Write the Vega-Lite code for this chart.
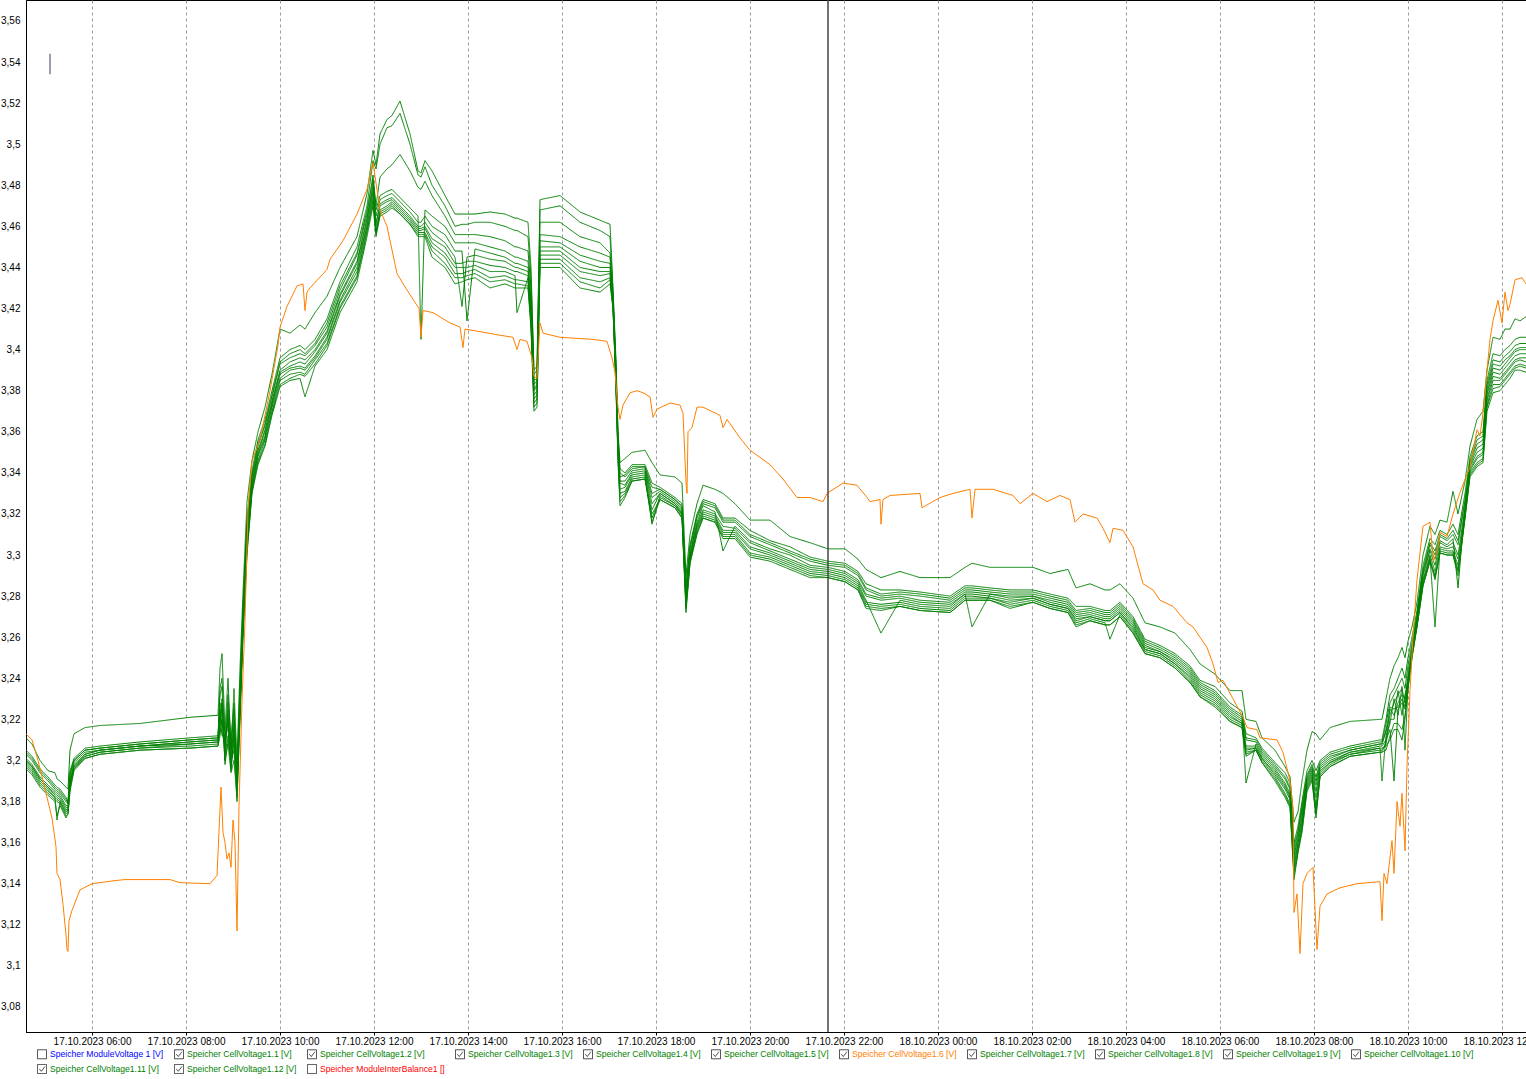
{
"$schema": "https://vega.github.io/schema/vega-lite/v6.json",
"width": 1500,
"height": 1032,
"autosize": "none",
"padding": {"left": 26, "top": 0, "right": 0, "bottom": 47},
"background": "white",
"config": {"view": {"stroke": "#000", "strokeWidth": 1}, "font": "Liberation Sans", "line": {"color": "#333"}},
"datasets": {
"names": [
{"k":"c1","name":"Speicher CellVoltage1.1 [V]"},{"k":"c2","name":"Speicher CellVoltage1.2 [V]"},{"k":"c3","name":"Speicher CellVoltage1.3 [V]"},{"k":"c4","name":"Speicher CellVoltage1.4 [V]"},{"k":"c5","name":"Speicher CellVoltage1.5 [V]"},{"k":"c7","name":"Speicher CellVoltage1.7 [V]"},{"k":"c8","name":"Speicher CellVoltage1.8 [V]"},{"k":"c9","name":"Speicher CellVoltage1.9 [V]"},{"k":"c10","name":"Speicher CellVoltage1.10 [V]"},{"k":"c11","name":"Speicher CellVoltage1.11 [V]"},{"k":"c12","name":"Speicher CellVoltage1.12 [V]"}
],
"g": [
{"t":"2023-10-17T04:35:44","c1":3.211,"c2":3.205,"c3":3.203,"c4":3.204,"c5":3.2,"c7":3.201,"c8":3.199,"c9":3.2,"c10":3.198,"c11":3.196,"c12":3.197},
{"t":"2023-10-17T04:43:24","c1":3.208,"c2":3.202,"c3":3.2,"c4":3.201,"c5":3.197,"c7":3.198,"c8":3.196,"c9":3.197,"c10":3.195,"c11":3.193,"c12":3.194},
{"t":"2023-10-17T04:53:37","c1":3.2,"c2":3.196,"c3":3.194,"c4":3.195,"c5":3.191,"c7":3.192,"c8":3.19,"c9":3.191,"c10":3.189,"c11":3.187,"c12":3.188},
{"t":"2023-10-17T05:03:50","c1":3.195,"c2":3.192,"c3":3.19,"c4":3.191,"c5":3.187,"c7":3.188,"c8":3.186,"c9":3.187,"c10":3.185,"c11":3.183,"c12":3.184},
{"t":"2023-10-17T05:12:46","c1":3.194,"c2":3.188,"c3":3.186,"c4":3.187,"c5":3.184,"c7":3.185,"c8":3.182,"c9":3.183,"c10":3.182,"c11":3.18,"c12":3.181},
{"t":"2023-10-17T05:15:19","c1":3.191,"c2":3.187,"c3":3.185,"c4":3.186,"c5":3.183,"c7":3.184,"c8":3.171,"c9":3.182,"c10":3.181,"c11":3.173,"c12":3.18},
{"t":"2023-10-17T05:19:09","c1":3.19,"c2":3.186,"c3":3.184,"c4":3.185,"c5":3.182,"c7":3.183,"c8":3.18,"c9":3.181,"c10":3.18,"c11":3.178,"c12":3.179},
{"t":"2023-10-17T05:26:49","c1":3.187,"c2":3.182,"c3":3.18,"c4":3.181,"c5":3.177,"c7":3.178,"c8":3.175,"c9":3.176,"c10":3.174,"c11":3.172,"c12":3.173},
{"t":"2023-10-17T05:29:22","c1":3.186,"c2":3.18,"c3":3.179,"c4":3.179,"c5":3.177,"c7":3.178,"c8":3.176,"c9":3.176,"c10":3.175,"c11":3.174,"c12":3.174},
{"t":"2023-10-17T05:31:55","c1":3.205,"c2":3.195,"c3":3.193,"c4":3.194,"c5":3.19,"c7":3.191,"c8":3.188,"c9":3.189,"c10":3.187,"c11":3.185,"c12":3.186},
{"t":"2023-10-17T05:37:01","c1":3.213,"c2":3.201,"c3":3.2,"c4":3.2,"c5":3.198,"c7":3.199,"c8":3.197,"c9":3.197,"c10":3.196,"c11":3.195,"c12":3.196},
{"t":"2023-10-17T05:51:04","c1":3.216,"c2":3.206,"c3":3.205,"c4":3.205,"c5":3.203,"c7":3.204,"c8":3.202,"c9":3.203,"c10":3.202,"c11":3.201,"c12":3.201},
{"t":"2023-10-17T06:10:13","c1":3.217,"c2":3.207,"c3":3.206,"c4":3.206,"c5":3.205,"c7":3.205,"c8":3.204,"c9":3.205,"c10":3.204,"c11":3.203,"c12":3.203},
{"t":"2023-10-17T07:01:17","c1":3.218,"c2":3.209,"c3":3.208,"c4":3.208,"c5":3.207,"c7":3.207,"c8":3.206,"c9":3.207,"c10":3.206,"c11":3.205,"c12":3.205},
{"t":"2023-10-17T08:05:07","c1":3.221,"c2":3.211,"c3":3.21,"c4":3.21,"c5":3.209,"c7":3.209,"c8":3.208,"c9":3.208,"c10":3.207,"c11":3.206,"c12":3.206},
{"t":"2023-10-17T08:40:51","c1":3.222,"c2":3.212,"c3":3.211,"c4":3.211,"c5":3.21,"c7":3.21,"c8":3.209,"c9":3.209,"c10":3.208,"c11":3.207,"c12":3.207},
{"t":"2023-10-17T08:43:24","c1":3.245,"c2":3.235,"c3":3.228,"c4":3.232,"c5":3.22,"c7":3.225,"c8":3.215,"c9":3.222,"c10":3.218,"c11":3.212,"c12":3.216},
{"t":"2023-10-17T08:45:57","c1":3.252,"c2":3.24,"c3":3.222,"c4":3.236,"c5":3.228,"c7":3.218,"c8":3.23,"c9":3.212,"c10":3.226,"c11":3.22,"c12":3.214},
{"t":"2023-10-17T08:49:47","c1":3.215,"c2":3.21,"c3":3.205,"c4":3.2,"c5":3.214,"c7":3.208,"c8":3.198,"c9":3.212,"c10":3.203,"c11":3.2,"c12":3.207},
{"t":"2023-10-17T08:53:37","c1":3.24,"c2":3.232,"c3":3.225,"c4":3.228,"c5":3.215,"c7":3.222,"c8":3.21,"c9":3.218,"c10":3.212,"c11":3.208,"c12":3.22},
{"t":"2023-10-17T08:57:27","c1":3.205,"c2":3.21,"c3":3.198,"c4":3.205,"c5":3.195,"c7":3.202,"c8":3.2,"c9":3.196,"c10":3.208,"c11":3.194,"c12":3.199},
{"t":"2023-10-17T09:01:17","c1":3.235,"c2":3.228,"c3":3.22,"c4":3.225,"c5":3.212,"c7":3.218,"c8":3.205,"c9":3.215,"c10":3.21,"c11":3.2,"c12":3.208},
{"t":"2023-10-17T09:05:07","c1":3.2,"c2":3.195,"c3":3.19,"c4":3.185,"c5":3.192,"c7":3.188,"c8":3.18,"c9":3.194,"c10":3.186,"c11":3.182,"c12":3.19},
{"t":"2023-10-17T09:08:56","c1":3.245,"c2":3.238,"c3":3.232,"c4":3.235,"c5":3.228,"c7":3.23,"c8":3.222,"c9":3.226,"c10":3.224,"c11":3.22,"c12":3.225},
{"t":"2023-10-17T09:12:46","c1":3.282,"c2":3.276,"c3":3.272,"c4":3.274,"c5":3.268,"c7":3.27,"c8":3.265,"c9":3.266,"c10":3.263,"c11":3.26,"c12":3.262},
{"t":"2023-10-17T09:17:52","c1":3.326,"c2":3.318,"c3":3.314,"c4":3.315,"c5":3.309,"c7":3.311,"c8":3.305,"c9":3.307,"c10":3.304,"c11":3.3,"c12":3.302},
{"t":"2023-10-17T09:24:15","c1":3.346,"c2":3.341,"c3":3.338,"c4":3.339,"c5":3.335,"c7":3.337,"c8":3.333,"c9":3.334,"c10":3.332,"c11":3.33,"c12":3.331},
{"t":"2023-10-17T09:31:55","c1":3.36,"c2":3.356,"c3":3.353,"c4":3.354,"c5":3.35,"c7":3.351,"c8":3.348,"c9":3.349,"c10":3.346,"c11":3.344,"c12":3.345},
{"t":"2023-10-17T09:40:51","c1":3.372,"c2":3.366,"c3":3.363,"c4":3.364,"c5":3.36,"c7":3.361,"c8":3.357,"c9":3.358,"c10":3.356,"c11":3.353,"c12":3.354},
{"t":"2023-10-17T09:49:47","c1":3.388,"c2":3.38,"c3":3.377,"c4":3.378,"c5":3.374,"c7":3.375,"c8":3.372,"c9":3.373,"c10":3.37,"c11":3.368,"c12":3.369},
{"t":"2023-10-17T10:00:00","c1":3.41,"c2":3.396,"c3":3.393,"c4":3.394,"c5":3.389,"c7":3.39,"c8":3.386,"c9":3.388,"c10":3.385,"c11":3.382,"c12":3.383},
{"t":"2023-10-17T10:12:46","c1":3.408,"c2":3.4,"c3":3.396,"c4":3.398,"c5":3.392,"c7":3.394,"c8":3.39,"c9":3.391,"c10":3.388,"c11":3.385,"c12":3.386},
{"t":"2023-10-17T10:25:32","c1":3.412,"c2":3.402,"c3":3.398,"c4":3.4,"c5":3.394,"c7":3.396,"c8":3.391,"c9":3.392,"c10":3.389,"c11":3.386,"c12":3.388},
{"t":"2023-10-17T10:31:55","c1":3.41,"c2":3.4,"c3":3.397,"c4":3.398,"c5":3.393,"c7":3.395,"c8":3.39,"c9":3.391,"c10":3.388,"c11":3.377,"c12":3.387},
{"t":"2023-10-17T10:44:41","c1":3.418,"c2":3.405,"c3":3.402,"c4":3.403,"c5":3.399,"c7":3.4,"c8":3.396,"c9":3.397,"c10":3.395,"c11":3.392,"c12":3.393},
{"t":"2023-10-17T11:00:00","c1":3.426,"c2":3.415,"c3":3.411,"c4":3.413,"c5":3.408,"c7":3.409,"c8":3.405,"c9":3.406,"c10":3.403,"c11":3.4,"c12":3.402},
{"t":"2023-10-17T11:16:36","c1":3.44,"c2":3.433,"c3":3.429,"c4":3.431,"c5":3.426,"c7":3.427,"c8":3.423,"c9":3.424,"c10":3.421,"c11":3.418,"c12":3.42},
{"t":"2023-10-17T11:38:18","c1":3.455,"c2":3.45,"c3":3.446,"c4":3.447,"c5":3.442,"c7":3.443,"c8":3.438,"c9":3.44,"c10":3.436,"c11":3.433,"c12":3.435},
{"t":"2023-10-17T11:51:04","c1":3.476,"c2":3.47,"c3":3.466,"c4":3.468,"c5":3.463,"c7":3.464,"c8":3.46,"c9":3.461,"c10":3.458,"c11":3.455,"c12":3.457},
{"t":"2023-10-17T11:58:43","c1":3.497,"c2":3.492,"c3":3.485,"c4":3.483,"c5":3.479,"c7":3.481,"c8":3.475,"c9":3.477,"c10":3.473,"c11":3.47,"c12":3.472},
{"t":"2023-10-17T12:02:33","c1":3.49,"c2":3.488,"c3":3.47,"c4":3.468,"c5":3.46,"c7":3.465,"c8":3.456,"c9":3.462,"c10":3.458,"c11":3.455,"c12":3.457},
{"t":"2023-10-17T12:07:40","c1":3.505,"c2":3.5,"c3":3.484,"c4":3.475,"c5":3.471,"c7":3.473,"c8":3.468,"c9":3.47,"c10":3.467,"c11":3.465,"c12":3.466},
{"t":"2023-10-17T12:16:36","c1":3.512,"c2":3.508,"c3":3.488,"c4":3.477,"c5":3.473,"c7":3.475,"c8":3.47,"c9":3.472,"c10":3.469,"c11":3.467,"c12":3.468},
{"t":"2023-10-17T12:22:59","c1":3.514,"c2":3.509,"c3":3.49,"c4":3.478,"c5":3.474,"c7":3.476,"c8":3.472,"c9":3.473,"c10":3.471,"c11":3.469,"c12":3.47},
{"t":"2023-10-17T12:33:11","c1":3.521,"c2":3.515,"c3":3.495,"c4":3.474,"c5":3.47,"c7":3.472,"c8":3.468,"c9":3.469,"c10":3.467,"c11":3.466,"c12":3.466},
{"t":"2023-10-17T12:45:57","c1":3.505,"c2":3.5,"c3":3.487,"c4":3.469,"c5":3.465,"c7":3.467,"c8":3.463,"c9":3.464,"c10":3.462,"c11":3.461,"c12":3.461},
{"t":"2023-10-17T12:56:10","c1":3.487,"c2":3.485,"c3":3.479,"c4":3.465,"c5":3.46,"c7":3.462,"c8":3.458,"c9":3.459,"c10":3.457,"c11":3.455,"c12":3.456},
{"t":"2023-10-17T13:00:00","c1":3.486,"c2":3.484,"c3":3.478,"c4":3.405,"c5":3.46,"c7":3.462,"c8":3.458,"c9":3.459,"c10":3.457,"c11":3.455,"c12":3.456},
{"t":"2023-10-17T13:05:06","c1":3.492,"c2":3.489,"c3":3.482,"c4":3.468,"c5":3.462,"c7":3.465,"c8":3.459,"c9":3.46,"c10":3.457,"c11":3.455,"c12":3.456},
{"t":"2023-10-17T13:14:03","c1":3.487,"c2":3.48,"c3":3.475,"c4":3.465,"c5":3.457,"c7":3.46,"c8":3.452,"c9":3.454,"c10":3.45,"c11":3.445,"c12":3.448},
{"t":"2023-10-17T13:30:38","c1":3.475,"c2":3.47,"c3":3.465,"c4":3.46,"c5":3.452,"c7":3.456,"c8":3.447,"c9":3.45,"c10":3.445,"c11":3.44,"c12":3.442},
{"t":"2023-10-17T13:43:24","c1":3.466,"c2":3.46,"c3":3.456,"c4":3.452,"c5":3.445,"c7":3.448,"c8":3.44,"c9":3.442,"c10":3.437,"c11":3.432,"c12":3.435},
{"t":"2023-10-17T13:52:20","c1":3.466,"c2":3.461,"c3":3.456,"c4":3.452,"c5":3.421,"c7":3.448,"c8":3.44,"c9":3.442,"c10":3.437,"c11":3.433,"c12":3.435},
{"t":"2023-10-17T13:58:43","c1":3.466,"c2":3.461,"c3":3.456,"c4":3.452,"c5":3.445,"c7":3.414,"c8":3.44,"c9":3.443,"c10":3.438,"c11":3.434,"c12":3.436},
{"t":"2023-10-17T14:08:56","c1":3.466,"c2":3.462,"c3":3.456,"c4":3.452,"c5":3.446,"c7":3.449,"c8":3.441,"c9":3.443,"c10":3.439,"c11":3.435,"c12":3.437},
{"t":"2023-10-17T14:28:05","c1":3.467,"c2":3.462,"c3":3.455,"c4":3.45,"c5":3.444,"c7":3.447,"c8":3.438,"c9":3.441,"c10":3.435,"c11":3.43,"c12":3.433},
{"t":"2023-10-17T14:47:14","c1":3.466,"c2":3.46,"c3":3.453,"c4":3.448,"c5":3.443,"c7":3.445,"c8":3.438,"c9":3.44,"c10":3.436,"c11":3.432,"c12":3.434},
{"t":"2023-10-17T15:00:00","c1":3.464,"c2":3.458,"c3":3.45,"c4":3.445,"c5":3.44,"c7":3.442,"c8":3.436,"c9":3.438,"c10":3.434,"c11":3.43,"c12":3.432},
{"t":"2023-10-17T15:02:33","c1":3.464,"c2":3.458,"c3":3.45,"c4":3.445,"c5":3.44,"c7":3.442,"c8":3.418,"c9":3.438,"c10":3.434,"c11":3.43,"c12":3.432},
{"t":"2023-10-17T15:16:36","c1":3.462,"c2":3.455,"c3":3.448,"c4":3.443,"c5":3.438,"c7":3.44,"c8":3.435,"c9":3.436,"c10":3.433,"c11":3.43,"c12":3.431},
{"t":"2023-10-17T15:20:26","c1":3.44,"c2":3.435,"c3":3.43,"c4":3.425,"c5":3.42,"c7":3.422,"c8":3.415,"c9":3.418,"c10":3.413,"c11":3.41,"c12":3.412},
{"t":"2023-10-17T15:24:15","c1":3.39,"c2":3.388,"c3":3.385,"c4":3.383,"c5":3.38,"c7":3.381,"c8":3.376,"c9":3.378,"c10":3.374,"c11":3.37,"c12":3.372},
{"t":"2023-10-17T15:28:05","c1":3.392,"c2":3.39,"c3":3.386,"c4":3.385,"c5":3.382,"c7":3.383,"c8":3.378,"c9":3.38,"c10":3.376,"c11":3.372,"c12":3.374},
{"t":"2023-10-17T15:31:55","c1":3.473,"c2":3.468,"c3":3.462,"c4":3.456,"c5":3.45,"c7":3.453,"c8":3.446,"c9":3.448,"c10":3.444,"c11":3.44,"c12":3.442},
{"t":"2023-10-17T15:57:27","c1":3.475,"c2":3.47,"c3":3.462,"c4":3.455,"c5":3.45,"c7":3.452,"c8":3.446,"c9":3.448,"c10":3.444,"c11":3.44,"c12":3.442},
{"t":"2023-10-17T16:22:59","c1":3.467,"c2":3.462,"c3":3.455,"c4":3.45,"c5":3.443,"c7":3.446,"c8":3.438,"c9":3.44,"c10":3.435,"c11":3.43,"c12":3.433},
{"t":"2023-10-17T16:48:31","c1":3.463,"c2":3.458,"c3":3.452,"c4":3.447,"c5":3.44,"c7":3.443,"c8":3.436,"c9":3.438,"c10":3.433,"c11":3.428,"c12":3.43},
{"t":"2023-10-17T17:01:17","c1":3.461,"c2":3.455,"c3":3.447,"c4":3.445,"c5":3.44,"c7":3.442,"c8":3.437,"c9":3.438,"c10":3.435,"c11":3.432,"c12":3.434},
{"t":"2023-10-17T17:05:06","c1":3.43,"c2":3.428,"c3":3.426,"c4":3.425,"c5":3.423,"c7":3.424,"c8":3.421,"c9":3.422,"c10":3.421,"c11":3.42,"c12":3.42},
{"t":"2023-10-17T17:08:56","c1":3.395,"c2":3.392,"c3":3.39,"c4":3.388,"c5":3.386,"c7":3.387,"c8":3.384,"c9":3.385,"c10":3.383,"c11":3.38,"c12":3.382},
{"t":"2023-10-17T17:11:30","c1":3.36,"c2":3.358,"c3":3.356,"c4":3.355,"c5":3.352,"c7":3.353,"c8":3.35,"c9":3.351,"c10":3.348,"c11":3.345,"c12":3.347},
{"t":"2023-10-17T17:14:03","c1":3.345,"c2":3.342,"c3":3.34,"c4":3.338,"c5":3.335,"c7":3.336,"c8":3.33,"c9":3.332,"c10":3.328,"c11":3.324,"c12":3.326},
{"t":"2023-10-17T17:20:26","c1":3.347,"c2":3.34,"c3":3.338,"c4":3.339,"c5":3.334,"c7":3.336,"c8":3.331,"c9":3.333,"c10":3.33,"c11":3.328,"c12":3.329},
{"t":"2023-10-17T17:29:22","c1":3.35,"c2":3.344,"c3":3.342,"c4":3.343,"c5":3.34,"c7":3.341,"c8":3.338,"c9":3.339,"c10":3.337,"c11":3.336,"c12":3.336},
{"t":"2023-10-17T17:45:57","c1":3.351,"c2":3.344,"c3":3.343,"c4":3.343,"c5":3.341,"c7":3.342,"c8":3.339,"c9":3.34,"c10":3.338,"c11":3.337,"c12":3.337},
{"t":"2023-10-17T17:54:54","c1":3.345,"c2":3.335,"c3":3.33,"c4":3.333,"c5":3.325,"c7":3.328,"c8":3.315,"c9":3.322,"c10":3.318,"c11":3.316,"c12":3.32},
{"t":"2023-10-17T18:05:06","c1":3.339,"c2":3.333,"c3":3.332,"c4":3.332,"c5":3.33,"c7":3.331,"c8":3.329,"c9":3.33,"c10":3.328,"c11":3.327,"c12":3.327},
{"t":"2023-10-17T18:24:15","c1":3.338,"c2":3.328,"c3":3.327,"c4":3.327,"c5":3.325,"c7":3.326,"c8":3.324,"c9":3.325,"c10":3.324,"c11":3.323,"c12":3.323},
{"t":"2023-10-17T18:33:11","c1":3.335,"c2":3.325,"c3":3.323,"c4":3.324,"c5":3.321,"c7":3.322,"c8":3.32,"c9":3.32,"c10":3.319,"c11":3.318,"c12":3.318},
{"t":"2023-10-17T18:38:18","c1":3.29,"c2":3.285,"c3":3.283,"c4":3.284,"c5":3.28,"c7":3.282,"c8":3.277,"c9":3.279,"c10":3.275,"c11":3.272,"c12":3.274},
{"t":"2023-10-17T18:43:24","c1":3.31,"c2":3.305,"c3":3.303,"c4":3.304,"c5":3.3,"c7":3.301,"c8":3.298,"c9":3.299,"c10":3.297,"c11":3.296,"c12":3.296},
{"t":"2023-10-17T18:52:20","c1":3.325,"c2":3.32,"c3":3.318,"c4":3.319,"c5":3.315,"c7":3.316,"c8":3.313,"c9":3.314,"c10":3.312,"c11":3.31,"c12":3.311},
{"t":"2023-10-17T19:00:00","c1":3.334,"c2":3.327,"c3":3.325,"c4":3.326,"c5":3.322,"c7":3.324,"c8":3.32,"c9":3.321,"c10":3.319,"c11":3.318,"c12":3.318},
{"t":"2023-10-17T19:15:19","c1":3.332,"c2":3.325,"c3":3.323,"c4":3.324,"c5":3.32,"c7":3.321,"c8":3.318,"c9":3.319,"c10":3.317,"c11":3.316,"c12":3.316},
{"t":"2023-10-17T19:25:32","c1":3.33,"c2":3.318,"c3":3.316,"c4":3.317,"c5":3.314,"c7":3.302,"c8":3.311,"c9":3.312,"c10":3.31,"c11":3.308,"c12":3.309},
{"t":"2023-10-17T19:40:51","c1":3.325,"c2":3.318,"c3":3.316,"c4":3.317,"c5":3.313,"c7":3.314,"c8":3.311,"c9":3.312,"c10":3.31,"c11":3.308,"c12":3.309},
{"t":"2023-10-17T20:00:00","c1":3.317,"c2":3.312,"c3":3.309,"c4":3.31,"c5":3.306,"c7":3.307,"c8":3.303,"c9":3.304,"c10":3.301,"c11":3.299,"c12":3.3},
{"t":"2023-10-17T20:25:32","c1":3.317,"c2":3.307,"c3":3.305,"c4":3.306,"c5":3.302,"c7":3.303,"c8":3.3,"c9":3.301,"c10":3.299,"c11":3.297,"c12":3.298},
{"t":"2023-10-17T20:51:04","c1":3.309,"c2":3.304,"c3":3.301,"c4":3.302,"c5":3.298,"c7":3.3,"c8":3.296,"c9":3.297,"c10":3.295,"c11":3.293,"c12":3.294},
{"t":"2023-10-17T21:16:36","c1":3.306,"c2":3.299,"c3":3.297,"c4":3.298,"c5":3.294,"c7":3.295,"c8":3.292,"c9":3.293,"c10":3.291,"c11":3.289,"c12":3.29},
{"t":"2023-10-17T21:39:34","c1":3.303,"c2":3.297,"c3":3.295,"c4":3.296,"c5":3.293,"c7":3.294,"c8":3.291,"c9":3.292,"c10":3.29,"c11":3.289,"c12":3.289},
{"t":"2023-10-17T22:01:17","c1":3.303,"c2":3.296,"c3":3.294,"c4":3.295,"c5":3.291,"c7":3.292,"c8":3.289,"c9":3.29,"c10":3.288,"c11":3.287,"c12":3.287},
{"t":"2023-10-17T22:17:52","c1":3.298,"c2":3.292,"c3":3.29,"c4":3.291,"c5":3.287,"c7":3.288,"c8":3.285,"c9":3.286,"c10":3.284,"c11":3.283,"c12":3.283},
{"t":"2023-10-17T22:28:05","c1":3.293,"c2":3.286,"c3":3.283,"c4":3.284,"c5":3.28,"c7":3.281,"c8":3.277,"c9":3.278,"c10":3.276,"c11":3.274,"c12":3.275},
{"t":"2023-10-17T22:47:14","c1":3.289,"c2":3.283,"c3":3.28,"c4":3.281,"c5":3.278,"c7":3.279,"c8":3.276,"c9":3.262,"c10":3.275,"c11":3.273,"c12":3.274},
{"t":"2023-10-17T23:11:30","c1":3.292,"c2":3.283,"c3":3.281,"c4":3.282,"c5":3.279,"c7":3.28,"c8":3.277,"c9":3.278,"c10":3.276,"c11":3.275,"c12":3.275},
{"t":"2023-10-17T23:37:01","c1":3.289,"c2":3.282,"c3":3.28,"c4":3.281,"c5":3.277,"c7":3.278,"c8":3.275,"c9":3.276,"c10":3.274,"c11":3.273,"c12":3.273},
{"t":"2023-10-18T00:15:19","c1":3.289,"c2":3.28,"c3":3.278,"c4":3.279,"c5":3.276,"c7":3.277,"c8":3.274,"c9":3.275,"c10":3.273,"c11":3.272,"c12":3.272},
{"t":"2023-10-18T00:34:28","c1":3.294,"c2":3.285,"c3":3.283,"c4":3.284,"c5":3.281,"c7":3.282,"c8":3.28,"c9":3.281,"c10":3.279,"c11":3.278,"c12":3.278},
{"t":"2023-10-18T00:43:24","c1":3.296,"c2":3.285,"c3":3.283,"c4":3.284,"c5":3.265,"c7":3.282,"c8":3.28,"c9":3.281,"c10":3.279,"c11":3.278,"c12":3.278},
{"t":"2023-10-18T01:06:23","c1":3.294,"c2":3.284,"c3":3.282,"c4":3.283,"c5":3.281,"c7":3.281,"c8":3.279,"c9":3.28,"c10":3.279,"c11":3.278,"c12":3.278},
{"t":"2023-10-18T01:31:55","c1":3.294,"c2":3.283,"c3":3.281,"c4":3.282,"c5":3.279,"c7":3.28,"c8":3.277,"c9":3.278,"c10":3.276,"c11":3.274,"c12":3.275},
{"t":"2023-10-18T02:01:17","c1":3.294,"c2":3.283,"c3":3.281,"c4":3.282,"c5":3.28,"c7":3.28,"c8":3.279,"c9":3.279,"c10":3.278,"c11":3.277,"c12":3.277},
{"t":"2023-10-18T02:22:59","c1":3.291,"c2":3.281,"c3":3.279,"c4":3.28,"c5":3.277,"c7":3.278,"c8":3.276,"c9":3.276,"c10":3.275,"c11":3.274,"c12":3.274},
{"t":"2023-10-18T02:45:57","c1":3.293,"c2":3.279,"c3":3.277,"c4":3.278,"c5":3.275,"c7":3.276,"c8":3.274,"c9":3.274,"c10":3.273,"c11":3.272,"c12":3.272},
{"t":"2023-10-18T02:56:10","c1":3.284,"c2":3.275,"c3":3.272,"c4":3.273,"c5":3.27,"c7":3.271,"c8":3.268,"c9":3.269,"c10":3.267,"c11":3.265,"c12":3.266},
{"t":"2023-10-18T03:14:03","c1":3.286,"c2":3.275,"c3":3.273,"c4":3.274,"c5":3.271,"c7":3.272,"c8":3.27,"c9":3.27,"c10":3.269,"c11":3.268,"c12":3.268},
{"t":"2023-10-18T03:33:11","c1":3.283,"c2":3.273,"c3":3.271,"c4":3.272,"c5":3.269,"c7":3.27,"c8":3.268,"c9":3.268,"c10":3.267,"c11":3.266,"c12":3.266},
{"t":"2023-10-18T03:39:34","c1":3.283,"c2":3.273,"c3":3.271,"c4":3.272,"c5":3.269,"c7":3.27,"c8":3.268,"c9":3.268,"c10":3.259,"c11":3.266,"c12":3.266},
{"t":"2023-10-18T03:52:20","c1":3.286,"c2":3.277,"c3":3.275,"c4":3.276,"c5":3.273,"c7":3.274,"c8":3.272,"c9":3.272,"c10":3.271,"c11":3.27,"c12":3.27},
{"t":"2023-10-18T04:08:56","c1":3.279,"c2":3.27,"c3":3.268,"c4":3.269,"c5":3.266,"c7":3.267,"c8":3.264,"c9":3.265,"c10":3.263,"c11":3.262,"c12":3.262},
{"t":"2023-10-18T04:24:15","c1":3.267,"c2":3.259,"c3":3.257,"c4":3.258,"c5":3.255,"c7":3.256,"c8":3.254,"c9":3.254,"c10":3.253,"c11":3.252,"c12":3.252},
{"t":"2023-10-18T04:43:24","c1":3.265,"c2":3.256,"c3":3.254,"c4":3.255,"c5":3.253,"c7":3.253,"c8":3.252,"c9":3.252,"c10":3.251,"c11":3.25,"c12":3.25},
{"t":"2023-10-18T05:02:33","c1":3.262,"c2":3.252,"c3":3.25,"c4":3.251,"c5":3.248,"c7":3.249,"c8":3.247,"c9":3.247,"c10":3.246,"c11":3.245,"c12":3.245},
{"t":"2023-10-18T05:21:42","c1":3.254,"c2":3.246,"c3":3.244,"c4":3.245,"c5":3.242,"c7":3.243,"c8":3.24,"c9":3.241,"c10":3.239,"c11":3.238,"c12":3.238},
{"t":"2023-10-18T05:34:28","c1":3.247,"c2":3.239,"c3":3.237,"c4":3.238,"c5":3.235,"c7":3.236,"c8":3.233,"c9":3.234,"c10":3.232,"c11":3.231,"c12":3.231},
{"t":"2023-10-18T05:53:37","c1":3.242,"c2":3.236,"c3":3.233,"c4":3.234,"c5":3.231,"c7":3.232,"c8":3.229,"c9":3.23,"c10":3.228,"c11":3.226,"c12":3.227},
{"t":"2023-10-18T06:12:46","c1":3.234,"c2":3.228,"c3":3.225,"c4":3.226,"c5":3.223,"c7":3.224,"c8":3.221,"c9":3.222,"c10":3.22,"c11":3.219,"c12":3.219},
{"t":"2023-10-18T06:28:05","c1":3.234,"c2":3.224,"c3":3.221,"c4":3.222,"c5":3.219,"c7":3.22,"c8":3.218,"c9":3.218,"c10":3.217,"c11":3.216,"c12":3.216},
{"t":"2023-10-18T06:33:11","c1":3.22,"c2":3.213,"c3":3.21,"c4":3.211,"c5":3.207,"c7":3.189,"c8":3.205,"c9":3.206,"c10":3.204,"c11":3.202,"c12":3.203},
{"t":"2023-10-18T06:45:57","c1":3.219,"c2":3.211,"c3":3.209,"c4":3.21,"c5":3.207,"c7":3.208,"c8":3.206,"c9":3.206,"c10":3.205,"c11":3.205,"c12":3.205},
{"t":"2023-10-18T06:53:37","c1":3.211,"c2":3.206,"c3":3.204,"c4":3.205,"c5":3.202,"c7":3.203,"c8":3.201,"c9":3.201,"c10":3.2,"c11":3.199,"c12":3.199},
{"t":"2023-10-18T07:10:13","c1":3.205,"c2":3.199,"c3":3.197,"c4":3.198,"c5":3.195,"c7":3.196,"c8":3.193,"c9":3.194,"c10":3.192,"c11":3.19,"c12":3.191},
{"t":"2023-10-18T07:22:59","c1":3.197,"c2":3.194,"c3":3.191,"c4":3.192,"c5":3.188,"c7":3.189,"c8":3.186,"c9":3.187,"c10":3.184,"c11":3.182,"c12":3.183},
{"t":"2023-10-18T07:29:22","c1":3.192,"c2":3.189,"c3":3.186,"c4":3.187,"c5":3.183,"c7":3.184,"c8":3.181,"c9":3.182,"c10":3.179,"c11":3.177,"c12":3.178},
{"t":"2023-10-18T07:34:28","c1":3.17,"c2":3.16,"c3":3.156,"c4":3.158,"c5":3.152,"c7":3.154,"c8":3.148,"c9":3.15,"c10":3.146,"c11":3.142,"c12":3.144},
{"t":"2023-10-18T07:39:34","c1":3.175,"c2":3.168,"c3":3.165,"c4":3.166,"c5":3.162,"c7":3.163,"c8":3.159,"c9":3.16,"c10":3.157,"c11":3.155,"c12":3.156},
{"t":"2023-10-18T07:44:41","c1":3.19,"c2":3.18,"c3":3.176,"c4":3.178,"c5":3.172,"c7":3.174,"c8":3.169,"c9":3.17,"c10":3.167,"c11":3.165,"c12":3.166},
{"t":"2023-10-18T07:51:04","c1":3.205,"c2":3.195,"c3":3.192,"c4":3.193,"c5":3.19,"c7":3.191,"c8":3.188,"c9":3.189,"c10":3.187,"c11":3.185,"c12":3.186},
{"t":"2023-10-18T07:57:27","c1":3.214,"c2":3.2,"c3":3.197,"c4":3.198,"c5":3.195,"c7":3.196,"c8":3.193,"c9":3.194,"c10":3.192,"c11":3.19,"c12":3.191},
{"t":"2023-10-18T08:02:33","c1":3.213,"c2":3.195,"c3":3.19,"c4":3.192,"c5":3.185,"c7":3.188,"c8":3.178,"c9":3.182,"c10":3.175,"c11":3.172,"c12":3.174},
{"t":"2023-10-18T08:07:40","c1":3.21,"c2":3.2,"c3":3.198,"c4":3.199,"c5":3.196,"c7":3.197,"c8":3.194,"c9":3.195,"c10":3.193,"c11":3.192,"c12":3.192},
{"t":"2023-10-18T08:20:26","c1":3.216,"c2":3.204,"c3":3.202,"c4":3.203,"c5":3.2,"c7":3.201,"c8":3.199,"c9":3.199,"c10":3.198,"c11":3.197,"c12":3.197},
{"t":"2023-10-18T08:45:57","c1":3.219,"c2":3.207,"c3":3.205,"c4":3.206,"c5":3.204,"c7":3.205,"c8":3.203,"c9":3.204,"c10":3.203,"c11":3.202,"c12":3.202},
{"t":"2023-10-18T09:24:15","c1":3.22,"c2":3.21,"c3":3.208,"c4":3.209,"c5":3.207,"c7":3.208,"c8":3.206,"c9":3.206,"c10":3.205,"c11":3.204,"c12":3.204},
{"t":"2023-10-18T09:26:49","c1":3.22,"c2":3.21,"c3":3.208,"c4":3.209,"c5":3.207,"c7":3.208,"c8":3.206,"c9":3.19,"c10":3.205,"c11":3.204,"c12":3.204},
{"t":"2023-10-18T09:31:55","c1":3.23,"c2":3.22,"c3":3.214,"c4":3.218,"c5":3.21,"c7":3.215,"c8":3.207,"c9":3.212,"c10":3.208,"c11":3.205,"c12":3.209},
{"t":"2023-10-18T09:37:01","c1":3.24,"c2":3.232,"c3":3.222,"c4":3.228,"c5":3.215,"c7":3.225,"c8":3.21,"c9":3.218,"c10":3.22,"c11":3.212,"c12":3.226},
{"t":"2023-10-18T09:42:08","c1":3.246,"c2":3.235,"c3":3.228,"c4":3.232,"c5":3.19,"c7":3.222,"c8":3.215,"c9":3.23,"c10":3.22,"c11":3.218,"c12":3.225},
{"t":"2023-10-18T09:47:14","c1":3.25,"c2":3.24,"c3":3.232,"c4":3.236,"c5":3.225,"c7":3.228,"c8":3.215,"c9":3.222,"c10":3.234,"c11":3.218,"c12":3.226},
{"t":"2023-10-18T09:52:20","c1":3.255,"c2":3.245,"c3":3.235,"c4":3.24,"c5":3.228,"c7":3.232,"c8":3.21,"c9":3.236,"c10":3.222,"c11":3.215,"c12":3.23},
{"t":"2023-10-18T09:56:10","c1":3.25,"c2":3.24,"c3":3.228,"c4":3.235,"c5":3.225,"c7":3.23,"c8":3.22,"c9":3.205,"c10":3.232,"c11":3.222,"c12":3.226},
{"t":"2023-10-18T10:00:00","c1":3.258,"c2":3.25,"c3":3.242,"c4":3.246,"c5":3.238,"c7":3.24,"c8":3.235,"c9":3.236,"c10":3.238,"c11":3.235,"c12":3.237},
{"t":"2023-10-18T10:05:06","c1":3.265,"c2":3.26,"c3":3.255,"c4":3.257,"c5":3.253,"c7":3.254,"c8":3.25,"c9":3.252,"c10":3.251,"c11":3.25,"c12":3.251},
{"t":"2023-10-18T10:11:30","c1":3.277,"c2":3.273,"c3":3.27,"c4":3.271,"c5":3.268,"c7":3.269,"c8":3.266,"c9":3.267,"c10":3.266,"c11":3.265,"c12":3.265},
{"t":"2023-10-18T10:19:09","c1":3.3,"c2":3.295,"c3":3.292,"c4":3.293,"c5":3.29,"c7":3.291,"c8":3.287,"c9":3.288,"c10":3.286,"c11":3.285,"c12":3.285},
{"t":"2023-10-18T10:28:05","c1":3.314,"c2":3.308,"c3":3.305,"c4":3.306,"c5":3.302,"c7":3.303,"c8":3.299,"c9":3.3,"c10":3.298,"c11":3.297,"c12":3.297},
{"t":"2023-10-18T10:34:28","c1":3.31,"c2":3.305,"c3":3.3,"c4":3.302,"c5":3.295,"c7":3.298,"c8":3.265,"c9":3.292,"c10":3.29,"c11":3.288,"c12":3.289},
{"t":"2023-10-18T10:40:51","c1":3.317,"c2":3.312,"c3":3.309,"c4":3.31,"c5":3.306,"c7":3.307,"c8":3.303,"c9":3.304,"c10":3.302,"c11":3.301,"c12":3.301},
{"t":"2023-10-18T10:49:47","c1":3.316,"c2":3.31,"c3":3.307,"c4":3.308,"c5":3.304,"c7":3.305,"c8":3.302,"c9":3.303,"c10":3.301,"c11":3.3,"c12":3.3},
{"t":"2023-10-18T10:57:27","c1":3.331,"c2":3.315,"c3":3.31,"c4":3.312,"c5":3.306,"c7":3.308,"c8":3.302,"c9":3.304,"c10":3.301,"c11":3.3,"c12":3.3},
{"t":"2023-10-18T11:03:50","c1":3.32,"c2":3.31,"c3":3.305,"c4":3.307,"c5":3.3,"c7":3.284,"c8":3.295,"c9":3.298,"c10":3.293,"c11":3.29,"c12":3.292},
{"t":"2023-10-18T11:12:46","c1":3.336,"c2":3.33,"c3":3.326,"c4":3.327,"c5":3.323,"c7":3.324,"c8":3.32,"c9":3.321,"c10":3.319,"c11":3.318,"c12":3.318},
{"t":"2023-10-18T11:19:09","c1":3.353,"c2":3.348,"c3":3.345,"c4":3.346,"c5":3.343,"c7":3.344,"c8":3.341,"c9":3.342,"c10":3.34,"c11":3.338,"c12":3.339},
{"t":"2023-10-18T11:28:05","c1":3.366,"c2":3.358,"c3":3.354,"c4":3.356,"c5":3.35,"c7":3.352,"c8":3.347,"c9":3.348,"c10":3.345,"c11":3.343,"c12":3.344},
{"t":"2023-10-18T11:35:44","c1":3.37,"c2":3.36,"c3":3.356,"c4":3.358,"c5":3.352,"c7":3.354,"c8":3.349,"c9":3.35,"c10":3.347,"c11":3.345,"c12":3.346},
{"t":"2023-10-18T11:40:51","c1":3.39,"c2":3.385,"c3":3.381,"c4":3.383,"c5":3.378,"c7":3.379,"c8":3.375,"c9":3.376,"c10":3.373,"c11":3.37,"c12":3.372},
{"t":"2023-10-18T11:48:31","c1":3.406,"c2":3.398,"c3":3.393,"c4":3.395,"c5":3.389,"c7":3.391,"c8":3.385,"c9":3.387,"c10":3.383,"c11":3.379,"c12":3.381},
{"t":"2023-10-18T11:57:27","c1":3.405,"c2":3.397,"c3":3.392,"c4":3.394,"c5":3.388,"c7":3.39,"c8":3.385,"c9":3.386,"c10":3.383,"c11":3.38,"c12":3.382},
{"t":"2023-10-18T12:03:50","c1":3.41,"c2":3.4,"c3":3.395,"c4":3.397,"c5":3.391,"c7":3.393,"c8":3.388,"c9":3.389,"c10":3.386,"c11":3.383,"c12":3.385},
{"t":"2023-10-18T12:10:13","c1":3.41,"c2":3.402,"c3":3.397,"c4":3.399,"c5":3.394,"c7":3.396,"c8":3.391,"c9":3.392,"c10":3.389,"c11":3.386,"c12":3.388},
{"t":"2023-10-18T12:16:36","c1":3.415,"c2":3.405,"c3":3.4,"c4":3.402,"c5":3.397,"c7":3.399,"c8":3.394,"c9":3.395,"c10":3.392,"c11":3.39,"c12":3.391},
{"t":"2023-10-18T12:22:59","c1":3.414,"c2":3.406,"c3":3.401,"c4":3.403,"c5":3.398,"c7":3.4,"c8":3.395,"c9":3.396,"c10":3.393,"c11":3.39,"c12":3.392},
{"t":"2023-10-18T12:30:38","c1":3.416,"c2":3.406,"c3":3.401,"c4":3.403,"c5":3.398,"c7":3.4,"c8":3.394,"c9":3.396,"c10":3.392,"c11":3.389,"c12":3.391}
],
"o": [
{"t":"2023-10-17T04:35:44","v":3.213},{"t":"2023-10-17T04:43:24","v":3.21},{"t":"2023-10-17T04:51:04","v":3.2},{"t":"2023-10-17T05:00:00","v":3.186},{"t":"2023-10-17T05:08:56","v":3.172},{"t":"2023-10-17T05:14:02","v":3.158},{"t":"2023-10-17T05:15:19","v":3.145},{"t":"2023-10-17T05:19:09","v":3.142},{"t":"2023-10-17T05:22:59","v":3.13},{"t":"2023-10-17T05:26:49","v":3.115},{"t":"2023-10-17T05:28:05","v":3.108},{"t":"2023-10-17T05:29:22","v":3.107},{"t":"2023-10-17T05:30:38","v":3.122},{"t":"2023-10-17T05:34:28","v":3.127},{"t":"2023-10-17T05:44:41","v":3.137},{"t":"2023-10-17T06:00:00","v":3.14},{"t":"2023-10-17T06:29:22","v":3.1415},{"t":"2023-10-17T06:42:08","v":3.142},{"t":"2023-10-17T07:39:34","v":3.142},{"t":"2023-10-17T07:52:20","v":3.1405},{"t":"2023-10-17T08:30:38","v":3.14},{"t":"2023-10-17T08:39:34","v":3.144},{"t":"2023-10-17T08:44:41","v":3.187},{"t":"2023-10-17T08:47:14","v":3.165},{"t":"2023-10-17T08:49:47","v":3.16},{"t":"2023-10-17T08:52:20","v":3.152},{"t":"2023-10-17T08:54:53","v":3.155},{"t":"2023-10-17T08:57:27","v":3.148},{"t":"2023-10-17T09:00:00","v":3.171},{"t":"2023-10-17T09:02:33","v":3.16},{"t":"2023-10-17T09:05:07","v":3.117},{"t":"2023-10-17T09:07:40","v":3.178},{"t":"2023-10-17T09:11:29","v":3.229},{"t":"2023-10-17T09:15:19","v":3.268},{"t":"2023-10-17T09:19:09","v":3.322},{"t":"2023-10-17T09:24:15","v":3.346},{"t":"2023-10-17T09:34:28","v":3.356},{"t":"2023-10-17T09:47:14","v":3.38},{"t":"2023-10-17T09:57:27","v":3.402},{"t":"2023-10-17T10:00:00","v":3.411},{"t":"2023-10-17T10:08:56","v":3.421},{"t":"2023-10-17T10:21:42","v":3.431},{"t":"2023-10-17T10:29:22","v":3.432},{"t":"2023-10-17T10:31:55","v":3.419},{"t":"2023-10-17T10:34:28","v":3.428},{"t":"2023-10-17T10:38:18","v":3.43},{"t":"2023-10-17T11:00:00","v":3.439},{"t":"2023-10-17T11:03:50","v":3.444},{"t":"2023-10-17T11:20:26","v":3.453},{"t":"2023-10-17T11:38:18","v":3.466},{"t":"2023-10-17T11:51:04","v":3.478},{"t":"2023-10-17T11:58:43","v":3.491},{"t":"2023-10-17T12:07:40","v":3.468},{"t":"2023-10-17T12:16:36","v":3.46},{"t":"2023-10-17T12:29:22","v":3.437},{"t":"2023-10-17T12:42:08","v":3.429},{"t":"2023-10-17T12:57:27","v":3.42},{"t":"2023-10-17T13:00:00","v":3.406},{"t":"2023-10-17T13:02:33","v":3.419},{"t":"2023-10-17T13:15:19","v":3.418},{"t":"2023-10-17T13:37:01","v":3.413},{"t":"2023-10-17T13:49:47","v":3.411},{"t":"2023-10-17T13:53:37","v":3.401},{"t":"2023-10-17T13:56:10","v":3.41},{"t":"2023-10-17T14:11:29","v":3.409},{"t":"2023-10-17T14:40:51","v":3.407},{"t":"2023-10-17T14:57:27","v":3.406},{"t":"2023-10-17T15:02:33","v":3.4},{"t":"2023-10-17T15:06:23","v":3.405},{"t":"2023-10-17T15:15:19","v":3.404},{"t":"2023-10-17T15:21:42","v":3.396},{"t":"2023-10-17T15:24:15","v":3.387},{"t":"2023-10-17T15:28:05","v":3.386},{"t":"2023-10-17T15:31:55","v":3.413},{"t":"2023-10-17T15:35:44","v":3.408},{"t":"2023-10-17T15:57:27","v":3.406},{"t":"2023-10-17T16:39:34","v":3.405},{"t":"2023-10-17T16:57:27","v":3.404},{"t":"2023-10-17T17:03:50","v":3.396},{"t":"2023-10-17T17:07:40","v":3.389},{"t":"2023-10-17T17:10:13","v":3.377},{"t":"2023-10-17T17:11:30","v":3.372},{"t":"2023-10-17T17:14:03","v":3.366},{"t":"2023-10-17T17:17:52","v":3.373},{"t":"2023-10-17T17:26:49","v":3.379},{"t":"2023-10-17T17:35:44","v":3.38},{"t":"2023-10-17T17:43:24","v":3.379},{"t":"2023-10-17T17:52:20","v":3.377},{"t":"2023-10-17T17:56:10","v":3.367},{"t":"2023-10-17T18:01:17","v":3.371},{"t":"2023-10-17T18:17:52","v":3.374},{"t":"2023-10-17T18:30:38","v":3.373},{"t":"2023-10-17T18:34:28","v":3.369},{"t":"2023-10-17T18:38:18","v":3.335},{"t":"2023-10-17T18:39:34","v":3.33},{"t":"2023-10-17T18:40:51","v":3.36},{"t":"2023-10-17T18:45:57","v":3.362},{"t":"2023-10-17T18:52:20","v":3.372},{"t":"2023-10-17T19:00:00","v":3.372},{"t":"2023-10-17T19:21:42","v":3.368},{"t":"2023-10-17T19:25:32","v":3.362},{"t":"2023-10-17T19:30:38","v":3.366},{"t":"2023-10-17T19:47:14","v":3.357},{"t":"2023-10-17T20:00:00","v":3.351},{"t":"2023-10-17T20:25:32","v":3.344},{"t":"2023-10-17T20:42:08","v":3.337},{"t":"2023-10-17T21:00:00","v":3.328},{"t":"2023-10-17T21:16:36","v":3.328},{"t":"2023-10-17T21:33:11","v":3.326},{"t":"2023-10-17T21:38:18","v":3.33},{"t":"2023-10-17T21:58:43","v":3.335},{"t":"2023-10-17T22:16:36","v":3.334},{"t":"2023-10-17T22:29:22","v":3.328},{"t":"2023-10-17T22:33:11","v":3.326},{"t":"2023-10-17T22:45:57","v":3.327},{"t":"2023-10-17T22:47:14","v":3.315},{"t":"2023-10-17T22:49:47","v":3.327},{"t":"2023-10-17T22:58:43","v":3.329},{"t":"2023-10-17T23:37:01","v":3.33},{"t":"2023-10-17T23:39:34","v":3.323},{"t":"2023-10-18T00:02:33","v":3.328},{"t":"2023-10-18T00:19:09","v":3.33},{"t":"2023-10-18T00:40:51","v":3.332},{"t":"2023-10-18T00:43:24","v":3.318},{"t":"2023-10-18T00:47:14","v":3.332},{"t":"2023-10-18T01:10:13","v":3.332},{"t":"2023-10-18T01:35:44","v":3.329},{"t":"2023-10-18T01:44:41","v":3.325},{"t":"2023-10-18T02:01:17","v":3.33},{"t":"2023-10-18T02:19:09","v":3.326},{"t":"2023-10-18T02:35:44","v":3.329},{"t":"2023-10-18T02:48:31","v":3.327},{"t":"2023-10-18T02:54:53","v":3.316},{"t":"2023-10-18T03:05:06","v":3.32},{"t":"2023-10-18T03:22:59","v":3.318},{"t":"2023-10-18T03:30:38","v":3.313},{"t":"2023-10-18T03:39:34","v":3.306},{"t":"2023-10-18T03:43:24","v":3.313},{"t":"2023-10-18T03:56:10","v":3.312},{"t":"2023-10-18T04:08:56","v":3.304},{"t":"2023-10-18T04:21:42","v":3.286},{"t":"2023-10-18T04:34:28","v":3.283},{"t":"2023-10-18T04:43:24","v":3.278},{"t":"2023-10-18T05:00:00","v":3.275},{"t":"2023-10-18T05:17:52","v":3.267},{"t":"2023-10-18T05:25:32","v":3.265},{"t":"2023-10-18T05:43:24","v":3.255},{"t":"2023-10-18T05:51:04","v":3.247},{"t":"2023-10-18T05:57:27","v":3.238},{"t":"2023-10-18T06:03:50","v":3.239},{"t":"2023-10-18T06:16:36","v":3.23},{"t":"2023-10-18T06:29:22","v":3.221},{"t":"2023-10-18T06:34:28","v":3.216},{"t":"2023-10-18T06:47:14","v":3.215},{"t":"2023-10-18T06:51:04","v":3.211},{"t":"2023-10-18T07:12:46","v":3.21},{"t":"2023-10-18T07:20:26","v":3.204},{"t":"2023-10-18T07:29:22","v":3.19},{"t":"2023-10-18T07:33:11","v":3.177},{"t":"2023-10-18T07:34:28","v":3.126},{"t":"2023-10-18T07:38:18","v":3.135},{"t":"2023-10-18T07:42:08","v":3.106},{"t":"2023-10-18T07:45:57","v":3.14},{"t":"2023-10-18T07:51:04","v":3.145},{"t":"2023-10-18T07:58:43","v":3.148},{"t":"2023-10-18T08:01:17","v":3.128},{"t":"2023-10-18T08:03:50","v":3.108},{"t":"2023-10-18T08:07:40","v":3.129},{"t":"2023-10-18T08:16:36","v":3.135},{"t":"2023-10-18T08:33:11","v":3.138},{"t":"2023-10-18T08:54:53","v":3.14},{"t":"2023-10-18T09:24:15","v":3.141},{"t":"2023-10-18T09:26:49","v":3.122},{"t":"2023-10-18T09:29:22","v":3.145},{"t":"2023-10-18T09:33:11","v":3.14},{"t":"2023-10-18T09:39:34","v":3.161},{"t":"2023-10-18T09:42:08","v":3.145},{"t":"2023-10-18T09:46:00","v":3.18},{"t":"2023-10-18T09:49:47","v":3.168},{"t":"2023-10-18T09:52:20","v":3.184},{"t":"2023-10-18T09:56:10","v":3.156},{"t":"2023-10-18T09:58:43","v":3.197},{"t":"2023-10-18T10:02:33","v":3.234},{"t":"2023-10-18T10:06:23","v":3.26},{"t":"2023-10-18T10:11:30","v":3.288},{"t":"2023-10-18T10:19:09","v":3.314},{"t":"2023-10-18T10:28:05","v":3.316},{"t":"2023-10-18T10:32:20","v":3.297},{"t":"2023-10-18T10:37:27","v":3.302},{"t":"2023-10-18T10:40:51","v":3.311},{"t":"2023-10-18T10:49:47","v":3.309},{"t":"2023-10-18T10:57:27","v":3.32},{"t":"2023-10-18T11:05:57","v":3.33},{"t":"2023-10-18T11:19:09","v":3.343},{"t":"2023-10-18T11:28:05","v":3.361},{"t":"2023-10-18T11:31:55","v":3.358},{"t":"2023-10-18T11:35:44","v":3.369},{"t":"2023-10-18T11:40:51","v":3.39},{"t":"2023-10-18T11:44:41","v":3.405},{"t":"2023-10-18T11:48:31","v":3.414},{"t":"2023-10-18T11:54:53","v":3.424},{"t":"2023-10-18T12:00:00","v":3.413},{"t":"2023-10-18T12:03:50","v":3.428},{"t":"2023-10-18T12:07:40","v":3.419},{"t":"2023-10-18T12:10:13","v":3.422},{"t":"2023-10-18T12:16:36","v":3.434},{"t":"2023-10-18T12:25:32","v":3.435},{"t":"2023-10-18T12:30:38","v":3.432}
]
},
"encoding": {
"x": {"field": "t", "type": "temporal",
 "scale": {"domain": [{"year": 2023, "month": 10, "date": 17, "hours": 4, "minutes": 35, "seconds": 44}, {"year": 2023, "month": 10, "date": 18, "hours": 12, "minutes": 30, "seconds": 38}]},
 "axis": {"title": null, "format": "%d.%m.%Y %H:%M",
  "values": [{"year":2023,"month":10,"date":17,"hours":6},{"year":2023,"month":10,"date":17,"hours":8},{"year":2023,"month":10,"date":17,"hours":10},{"year":2023,"month":10,"date":17,"hours":12},{"year":2023,"month":10,"date":17,"hours":14},{"year":2023,"month":10,"date":17,"hours":16},{"year":2023,"month":10,"date":17,"hours":18},{"year":2023,"month":10,"date":17,"hours":20},{"year":2023,"month":10,"date":17,"hours":22},{"year":2023,"month":10,"date":18,"hours":0},{"year":2023,"month":10,"date":18,"hours":2},{"year":2023,"month":10,"date":18,"hours":4},{"year":2023,"month":10,"date":18,"hours":6},{"year":2023,"month":10,"date":18,"hours":8},{"year":2023,"month":10,"date":18,"hours":10},{"year":2023,"month":10,"date":18,"hours":12}],
  "grid": true, "gridDash": [3, 3], "gridColor": "#9a9a9a", "gridWidth": 1,
  "labelFont": "Liberation Sans", "labelFontSize": 10, "labelColor": "#000", "labelPadding": 1,
  "labelFlush": false, "labelOverlap": false, "labelBound": false,
  "domainColor": "#000", "tickColor": "#000", "tickSize": 3}},
"y": {"field": "v", "type": "quantitative",
 "scale": {"domain": [3.0678, 3.5702], "nice": false, "zero": false},
 "axis": {"title": null, "values": [3.08,3.1,3.12,3.14,3.16,3.18,3.2,3.22,3.24,3.26,3.28,3.3,3.32,3.34,3.36,3.38,3.4,3.42,3.44,3.46,3.48,3.5,3.52,3.54,3.56],
  "labelExpr": "replace(format(datum.value, '.2~f'), '.', ',')",
  "grid": false, "ticks": false, "tickSize": 0, "labelPadding": 6,
  "labelFont": "Liberation Sans", "labelFontSize": 10, "labelColor": "#000", "domainColor": "#000"}}
},
"layer": [
{"data": {"name": "g"},
 "transform": [
  {"fold": ["c1","c2","c3","c4","c5","c7","c8","c9","c10","c11","c12"], "as": ["k", "v"]},
  {"lookup": "k", "from": {"data": {"name": "names"}, "key": "k", "fields": ["name"]}}
 ],
 "mark": {"type": "line", "strokeWidth": 1, "clip": true},
 "encoding": {
  "color": {"field": "name", "type": "nominal", "legend": null,
   "scale": {"domain": ["Speicher CellVoltage1.1 [V]","Speicher CellVoltage1.2 [V]","Speicher CellVoltage1.3 [V]","Speicher CellVoltage1.4 [V]","Speicher CellVoltage1.5 [V]","Speicher CellVoltage1.6 [V]","Speicher CellVoltage1.7 [V]","Speicher CellVoltage1.8 [V]","Speicher CellVoltage1.9 [V]","Speicher CellVoltage1.10 [V]","Speicher CellVoltage1.11 [V]","Speicher CellVoltage1.12 [V]"],
    "range": ["#008000","#008000","#008000","#008000","#008000","#ff8000","#008000","#008000","#008000","#008000","#008000","#008000"]}},
  "strokeDash": {"field": "name", "type": "nominal",
   "scale": {"domain": ["Speicher ModuleVoltage 1 [V]","Speicher CellVoltage1.1 [V]","Speicher CellVoltage1.2 [V]","Speicher CellVoltage1.3 [V]","Speicher CellVoltage1.4 [V]","Speicher CellVoltage1.5 [V]","Speicher CellVoltage1.6 [V]","Speicher CellVoltage1.7 [V]","Speicher CellVoltage1.8 [V]","Speicher CellVoltage1.9 [V]","Speicher CellVoltage1.10 [V]","Speicher CellVoltage1.11 [V]","Speicher CellVoltage1.12 [V]","Speicher ModuleInterBalance1 []"],
    "range": [[1,0],[1,0],[1,0],[1,0],[1,0],[1,0],[1,0],[1,0],[1,0],[1,0],[1,0],[1,0],[1,0],[1,0]]},
   "legend": {"orient": "none", "legendX": 11, "legendY": 1049, "direction": "horizontal", "columns": 11, "title": null,
    "labelFont": "Liberation Sans", "labelFontSize": 8.6, "labelOffset": 3, "columnPadding": 8, "rowPadding": 1,
    "symbolSize": 81, "symbolStrokeWidth": 1, "symbolFillColor": "#fff", "symbolStrokeColor": "#333",
    "symbolType": "M-1,-1H1V1H-1Z M-0.6,0 L-0.15,0.5 L0.65,-0.55",
    "encode": {
     "labels": {"update": {"fill": {"signal": "datum.value == 'Speicher ModuleVoltage 1 [V]' ? '#0000ff' : datum.value == 'Speicher ModuleInterBalance1 []' ? '#ff0000' : datum.value == 'Speicher CellVoltage1.6 [V]' ? '#ff8000' : '#008000'"}}},
     "symbols": {"update": {
       "shape": {"signal": "(datum.value == 'Speicher ModuleVoltage 1 [V]' || datum.value == 'Speicher ModuleInterBalance1 []') ? 'M-1,-1H1V1H-1Z' : 'M-1,-1H1V1H-1Z M-0.6,0 L-0.15,0.5 L0.65,-0.55'"},
       "stroke": {"value": "#333"}, "fill": {"value": "#fff"}, "strokeWidth": {"value": 1}, "strokeDash": {"value": [1, 0]}}}
    }}
  },
  "detail": {"field": "k"}
 }},
{"data": {"name": "o"},
 "mark": {"type": "line", "strokeWidth": 1, "clip": true},
 "encoding": {"color": {"datum": "Speicher CellVoltage1.6 [V]", "type": "nominal", "legend": null}}},
{"data": {"values": [{"t": "2023-10-17T21:39:34"}]},
 "mark": {"type": "rule", "color": "#444", "strokeWidth": 1.5},
 "encoding": {"x": {"field": "t", "type": "temporal"}, "y": null}},
{"data": {"values": [{"t": "2023-10-17T05:06:23", "a": 3.544, "b": 3.534}]},
 "mark": {"type": "rule", "color": "#7b7b9b", "strokeWidth": 1.5},
 "encoding": {"x": {"field": "t", "type": "temporal"}, "y": {"field": "a", "type": "quantitative"}, "y2": {"field": "b"}}}
]
}
